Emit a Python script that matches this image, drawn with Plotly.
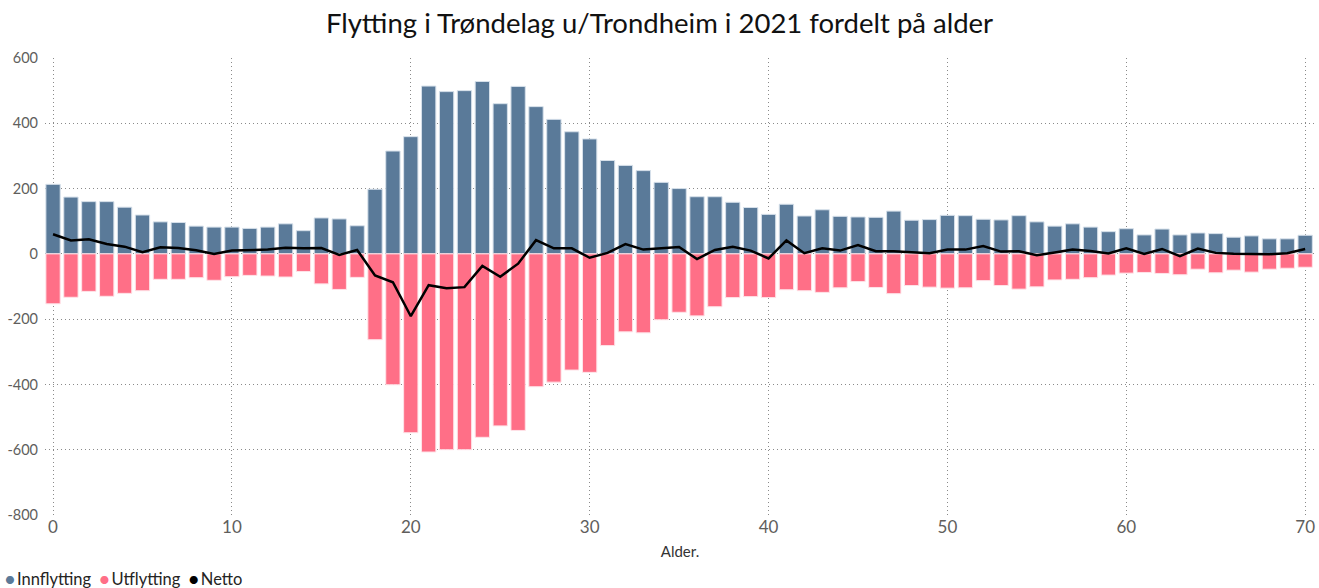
import plotly.graph_objects as go

ages = list(range(0, 71))

innflytting = [213, 174, 160, 160, 143, 119, 98, 96, 85, 82,
               82, 78, 82, 92, 71, 110, 107, 86, 198, 315,
               359, 514, 497, 500, 528, 460, 513, 451, 412, 374,
               352, 286, 271, 255, 219, 200, 175, 175, 158, 142,
               121, 152, 116, 135, 115, 113, 112, 131, 103, 105,
               118, 117, 106, 104, 117, 98, 85, 92, 82, 68,
               77, 58, 76, 58, 64, 62, 51, 55, 46, 46, 57]

utflytting = [-153, -133, -115, -130, -121, -113, -78, -78, -73, -81,
              -70, -66, -68, -71, -54, -92, -109, -72, -263, -401,
              -548, -607, -600, -600, -562, -527, -541, -407, -393, -356,
              -363, -281, -239, -242, -202, -179, -190, -162, -134, -131,
              -134, -110, -113, -118, -104, -85, -103, -122, -97, -102,
              -105, -104, -82, -97, -108, -101, -80, -78, -73, -65,
              -59, -57, -60, -64, -47, -58, -50, -56, -47, -44, -41]

netto = [60, 41, 45, 30, 22, 5, 20, 18, 11, 0,
         10, 11, 13, 19, 17, 18, -3, 12, -66, -87,
         -191, -96, -105, -102, -37, -70, -30, 42, 17, 17,
         -12, 3, 30, 13, 16, 21, -16, 12, 22, 10,
         -14, 41, 2, 17, 10, 27, 8, 8, 5, 2,
         13, 13, 24, 7, 8, -4, 4, 13, 9, 1,
         17, 0, 15, -7, 16, 3, 0, -1, -1, 2, 15]

series_names = ["Innflytting", "Utflytting", "Netto"]
title_text = "Flytting i Trøndelag u/Trondheim i 2021 fordelt på alder"
y_ticks = [-800, -600, -400, -200, 0, 200, 400, 600]
x_ticks = [0, 10, 20, 30, 40, 50, 60, 70]

BLUE = "#5A7A99"
PINK = "#FF6F87"
FONT = "Lato"
GRID_DASH = "1px,3px"

fig = go.Figure()
fig.add_trace(go.Bar(x=ages, y=innflytting, name=series_names[0],
                     marker=dict(color=BLUE, line=dict(color="#D6E0EA", width=1))))
fig.add_trace(go.Bar(x=ages, y=utflytting, name=series_names[1],
                     marker=dict(color=PINK, line=dict(color="#FFE3E8", width=1))))
fig.add_trace(go.Scatter(x=ages, y=netto, name=series_names[2], mode="lines",
                         line=dict(color="black", width=2.5)))

legend_html = (f"<span style='color:{BLUE}'>●</span>&#8201;{series_names[0]}&nbsp; "
               f"<span style='color:{PINK}'>●</span>&#8201;{series_names[1]}&nbsp; "
               f"<span style='color:#000'>●</span>&#8201;{series_names[2]}")

fig.update_layout(
    width=1319, height=588,
    margin=dict(l=45, r=4, t=58, b=73, autoexpand=False),
    paper_bgcolor="white", plot_bgcolor="white",
    barmode="relative", bargap=0.2,
    showlegend=False,
    font=dict(family=FONT, color="#605E5C"),
    title=dict(text=title_text, x=0.5, xanchor="center", y=0.96, yanchor="middle",
               font=dict(family=FONT, size=27.5, color="#111111")),
    xaxis=dict(range=[-0.45, 70.55], tickvals=x_ticks, ticktext=[str(v) for v in x_ticks],
               showgrid=True, gridcolor="#8a8a8a", griddash=GRID_DASH, gridwidth=1,
               zeroline=False, showline=False, ticks="", automargin=False,
               tickfont=dict(size=17, color="#605E5C"),
               title=dict(text="Alder.", font=dict(size=15, color="#333333"), standoff=10)),
    yaxis=dict(range=[-800, 600], tickvals=y_ticks, ticktext=[str(v) for v in y_ticks],
               showgrid=True, gridcolor="#8a8a8a", griddash=GRID_DASH, gridwidth=1,
               zeroline=False, showline=False, ticks="", automargin=False,
               ticklabelstandoff=6,
               tickfont=dict(size=14.5, color="#605E5C")),
    annotations=[dict(text=legend_html, xref="paper", yref="paper",
                      x=-42/1270, y=-64/457, xanchor="left", yanchor="middle",
                      showarrow=False, font=dict(size=16.5, color="#252423", family=FONT))],
)

fig.write_html("out.html", config={"displayModeBar": False},
               post_script="document.body.style.margin='0';document.body.style.overflow='hidden';")
